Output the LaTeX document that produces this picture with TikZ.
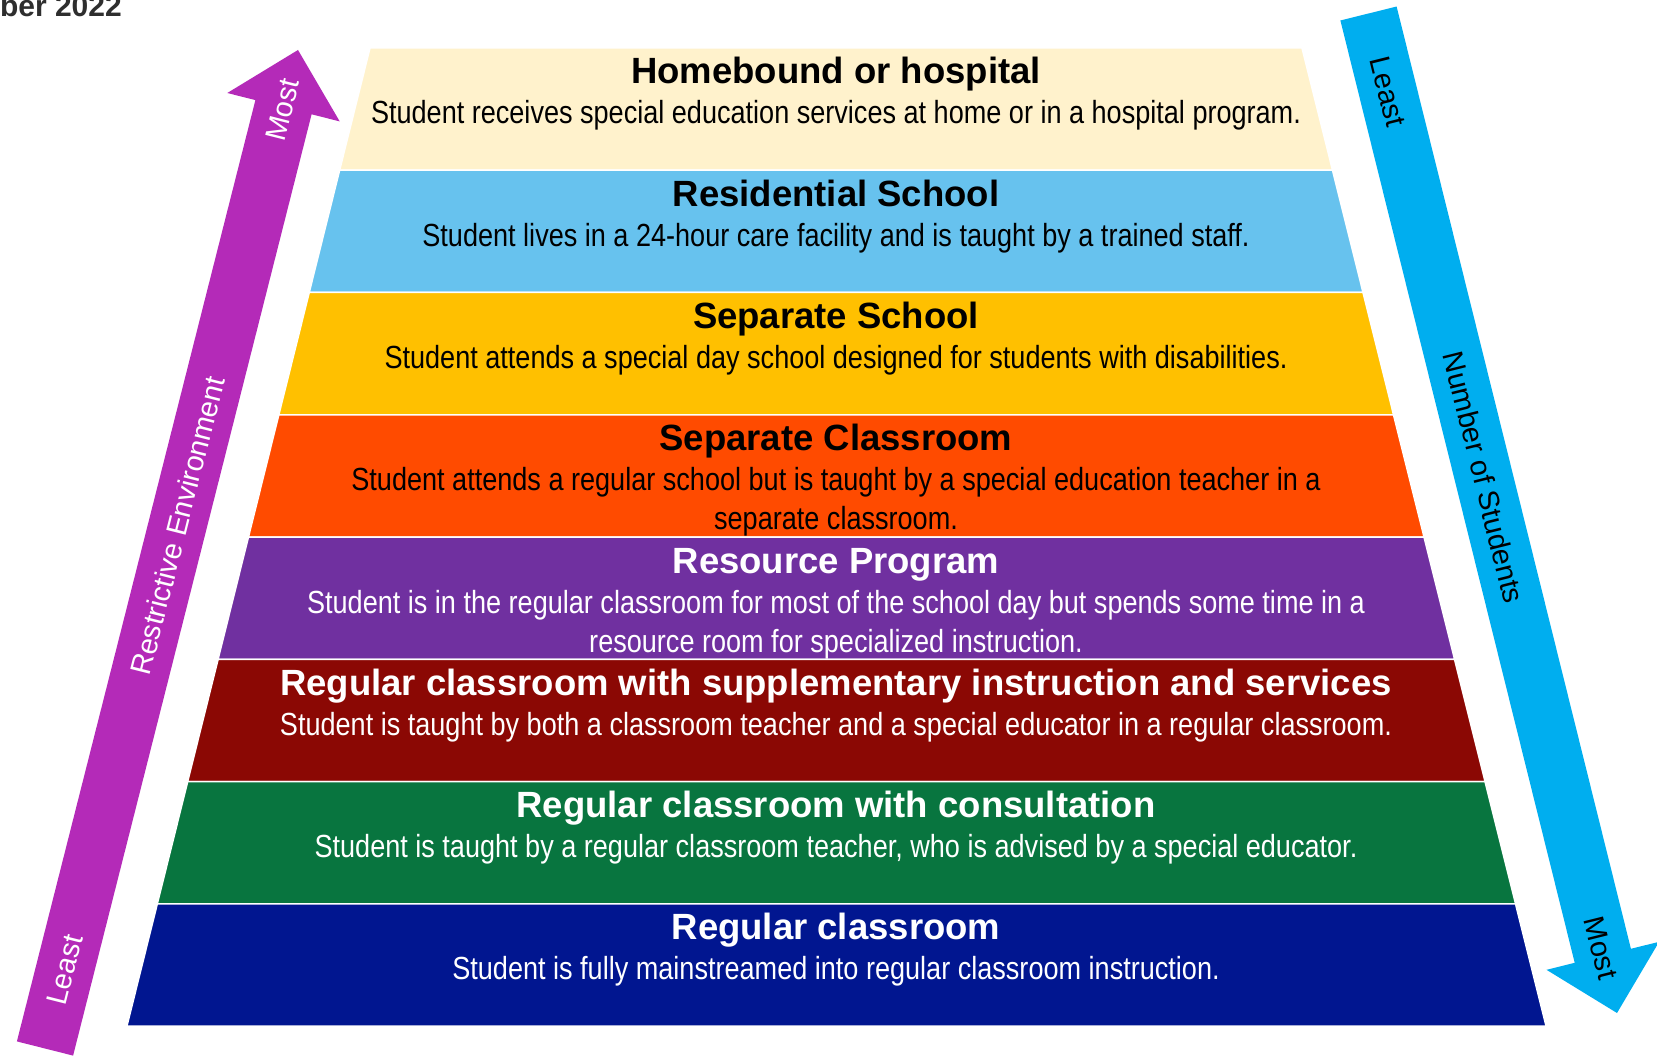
\documentclass[tikz,border=0pt]{standalone}
\usepackage{fontspec}
\setmainfont{Liberation Sans}
\newfontfamily\narrowfont[FakeStretch=0.846]{Liberation Sans}
\definecolor{cHome}{HTML}{FFF2CC}
\definecolor{cResid}{HTML}{67C2EE}
\definecolor{cSepS}{HTML}{FFC000}
\definecolor{cSepC}{HTML}{FF4B00}
\definecolor{cRes}{HTML}{7030A0}
\definecolor{cSupp}{HTML}{8B0804}
\definecolor{cCons}{HTML}{08753F}
\definecolor{cReg}{HTML}{011690}
\definecolor{cMag}{HTML}{B42AB8}
\definecolor{cCyan}{HTML}{00AEEF}
\tikzset{
  bandtitle/.style={anchor=base, inner sep=0pt, font=\bfseries\fontsize{36.5}{40}\selectfont},
  banddesc/.style={anchor=base, inner sep=0pt, font=\narrowfont\fontsize{32}{39}\selectfont},
  arrowtxt/.style={inner sep=0pt, font=\fontsize{29}{32}\selectfont},
}
\newcommand{\myband}[6]{%
  \pgfmathsetmacro{\yt}{48+122.25*#1}%
  \pgfmathsetmacro{\yb}{\yt+122.25}%
  \pgfmathsetmacro{\xlt}{370-(\yt-48)*0.2485}%
  \pgfmathsetmacro{\xlb}{370-(\yb-48)*0.2485}%
  \pgfmathsetmacro{\xrt}{1302+(\yt-48)*0.2495}%
  \pgfmathsetmacro{\xrb}{1302+(\yb-48)*0.2495}%
  \fill[#2, draw=white, line width=1.5pt] (\xlt,\yt) -- (\xrt,\yt) -- (\xrb,\yb) -- (\xlb,\yb) -- cycle;
  \node[bandtitle, text=#3] (t#1) at (836,\yt+36) {#4};
  \node[banddesc, text=#3] (d#1) at (836,\yt+76) {#5};
  \if\relax\detokenize{#6}\relax\else
  \node[banddesc, text=#3] (e#1) at (836,\yt+115) {#6};
  \fi
}
\begin{document}
\begin{tikzpicture}[x=1pt,y=-1pt]
\useasboundingbox (0,0) rectangle (1657,1056);
\clip (0,0) rectangle (1657,1056);
\fill[white] (0,0) rectangle (1657,1056);

\node[anchor=base east, inner sep=0pt, font=\bfseries\fontsize{30}{30}\selectfont, text=black!82] (date) at (122,17) {ber 2022};

\myband{0}{cHome}{black}{Homebound or hospital}{Student receives special education services at home or in a hospital program.}{}
\myband{1}{cResid}{black}{Residential School}{Student lives in a 24-hour care facility and is taught by a trained staff.}{}
\myband{2}{cSepS}{black}{Separate School}{Student attends a special day school designed for students with disabilities.}{}
\myband{3}{cSepC}{black}{Separate Classroom}{Student attends a regular school but is taught by a special education teacher in a}{separate classroom.}
\myband{4}{cRes}{white}{Resource Program}{Student is in the regular classroom for most of the school day but spends some time in a}{resource room for specialized instruction.}
\myband{5}{cSupp}{white}{Regular classroom with supplementary instruction and services}{Student is taught by both a classroom teacher and a special educator in a regular classroom.}{}
\myband{6}{cCons}{white}{Regular classroom with consultation}{Student is taught by a regular classroom teacher, who is advised by a special educator.}{}
\myband{7}{cReg}{white}{Regular classroom}{Student is fully mainstreamed into regular classroom instruction.}{}

% left arrow (restrictive environment)
\fill[cMag] (16.9,1041.4) -- (73.1,1055.6) -- (311.6,114.3) -- (339.7,121.4) -- (298,50) -- (227.3,93.0) -- (255.4,100.1) -- cycle;
\node[arrowtxt, text=white, rotate=75.8] (lleast) at (64.9,970) {Least};
\node[arrowtxt, text=white, rotate=75.8] (lrestr) at (177.4,526) {Restrictive Environment};
\node[arrowtxt, text=white, rotate=75.8] (lmost) at (282.7,110) {Most};

% right arrow (number of students)
\fill[cCyan] (1340.4,20.5) -- (1396.6,6.5) -- (1630.9,948.8) -- (1659.1,941.8) -- (1617,1013) -- (1546.5,969.8) -- (1574.7,962.8) -- cycle;
\node[arrowtxt, text=black, rotate=-76] (rleast) at (1388,92) {Least};
\node[arrowtxt, text=black, rotate=-76] (rnum) at (1483.8,477.4) {Number of Students};
\node[arrowtxt, text=black, rotate=-76] (rmost) at (1600.9,948) {Most};
\end{tikzpicture}
\end{document}
